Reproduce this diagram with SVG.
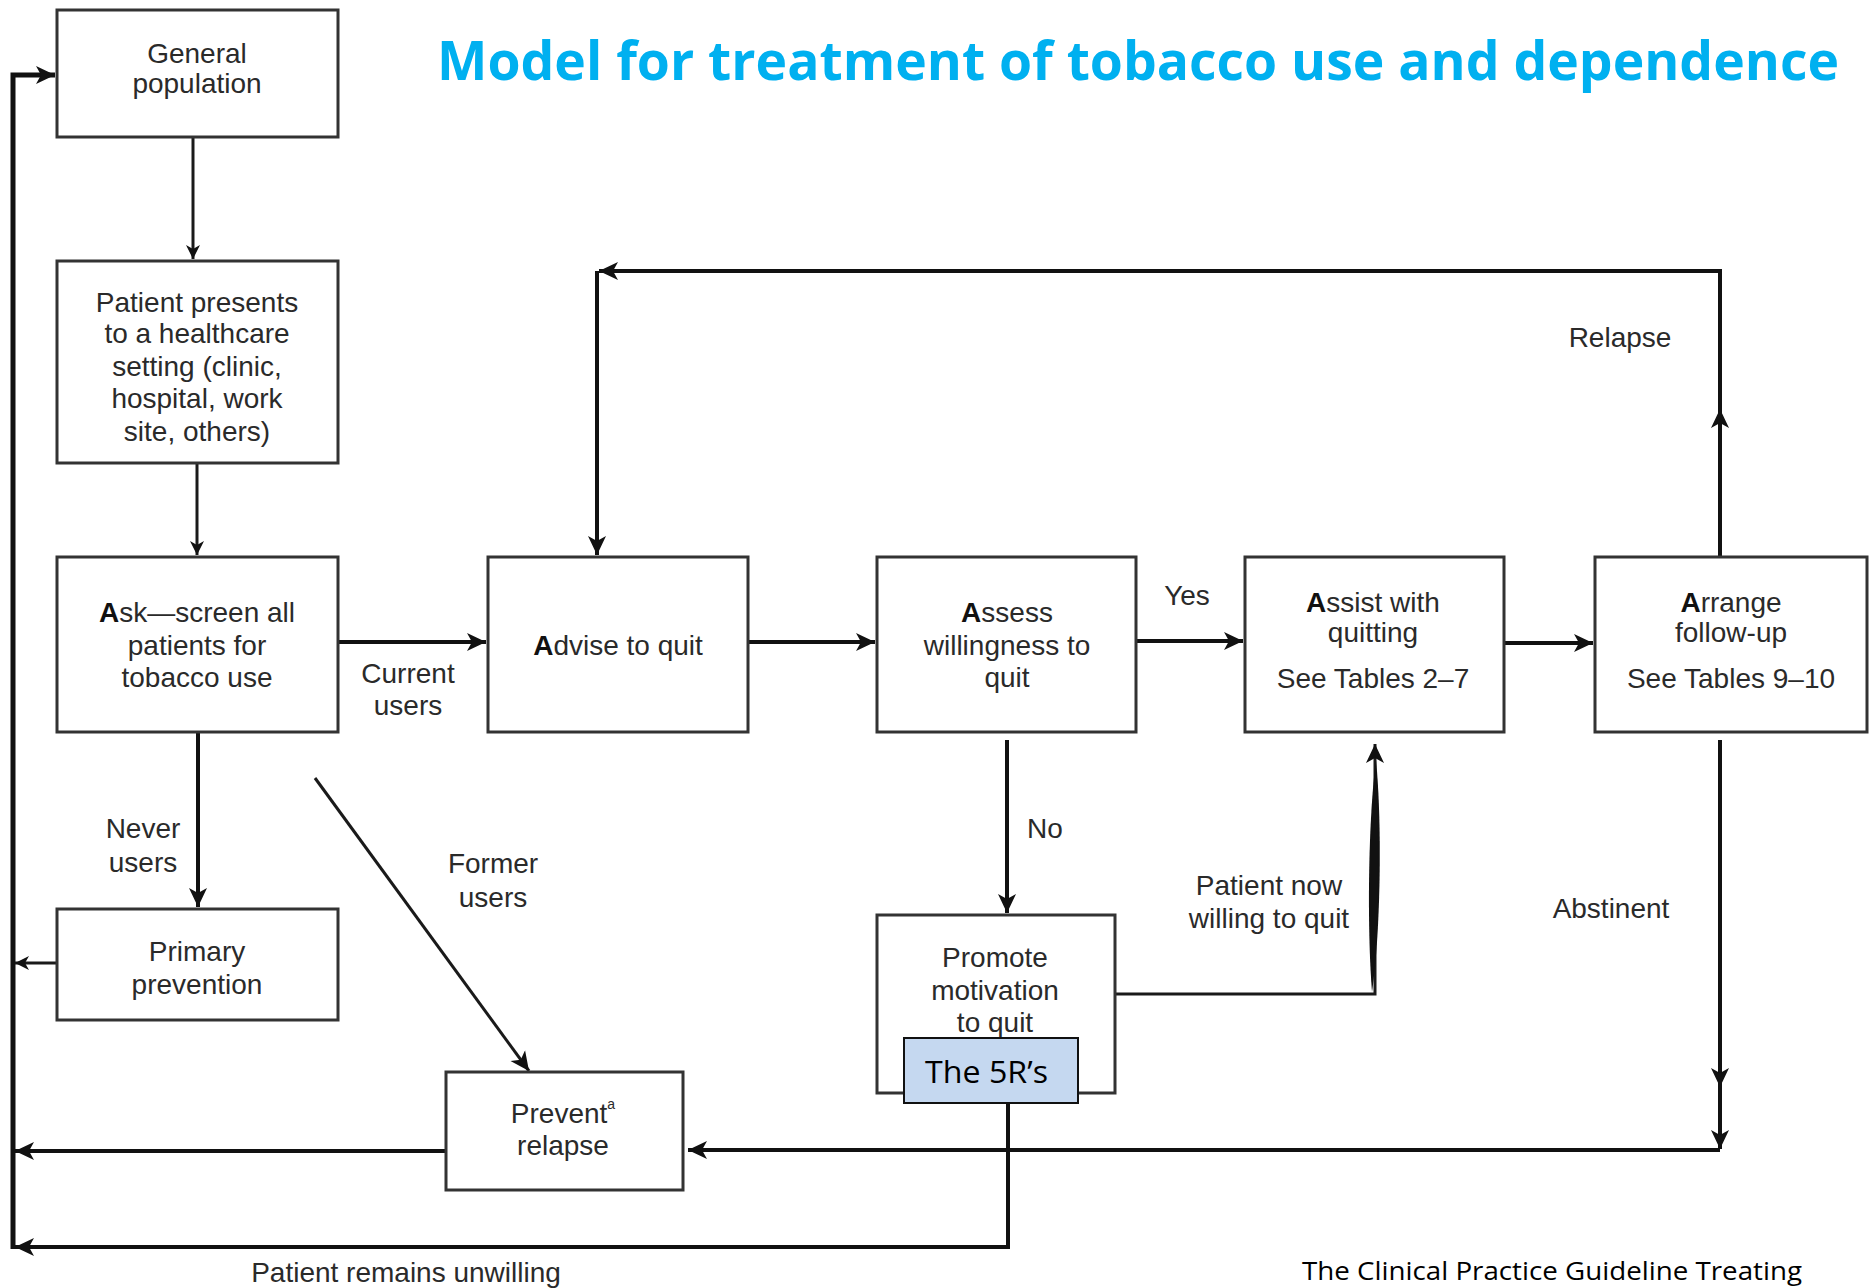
<svg xmlns="http://www.w3.org/2000/svg" width="1869" height="1288" viewBox="0 0 1869 1288">
<style>
.box{fill:#fff;stroke:#333;stroke-width:3}
.t{font-family:"Liberation Sans",Arial,sans-serif;font-size:28px;fill:#2a2a2a;text-anchor:middle}
.c{fill:none;stroke:#1a1a1a;stroke-width:3}
.k{fill:none;stroke:#111;stroke-width:4}
.K{fill:none;stroke:#111;stroke-width:5}
.b{font-weight:bold;fill:#111}
</style>
<defs>
<marker id="a" markerUnits="userSpaceOnUse" markerWidth="22" markerHeight="20" refX="19" refY="10" orient="auto">
<path d="M0,1 L19,10 L0,19 L5,10 Z" fill="#111"/>
</marker>
<marker id="s" markerUnits="userSpaceOnUse" markerWidth="16" markerHeight="16" refX="14" refY="8" orient="auto">
<path d="M0,1 L14,8 L0,15 L4,8 Z" fill="#111"/>
</marker>
</defs>
<rect width="1869" height="1288" fill="#fff"/>
<text x="437" y="80" textLength="1402" lengthAdjust="spacingAndGlyphs" style="font-family:'Open Sans','Noto Sans',sans-serif;font-weight:bold;font-size:53px;fill:#00B0F0">Model for treatment of tobacco use and dependence</text>
<g id="connectors">
<path class="K" d="M13,1249 L13,75 L55,75" marker-end="url(#a)"/>
<path class="c" d="M193,137 L193,259" marker-end="url(#s)"/>
<path class="c" d="M197,463 L197,555" marker-end="url(#s)"/>
<path class="k" d="M338,642 L486,642" marker-end="url(#a)"/>
<path class="k" d="M198,732 L198,907" marker-end="url(#a)"/>
<path class="c" d="M57,963 L15,963" marker-end="url(#s)"/>
<path class="c" d="M315,778 L529,1071" marker-end="url(#a)"/>
<path class="k" d="M748,642 L875,642" marker-end="url(#a)"/>
<path class="k" d="M1136,641 L1243,641" marker-end="url(#a)"/>
<path class="k" d="M1504,643 L1593,643" marker-end="url(#a)"/>
<path class="k" d="M1720,557 L1720,409" marker-end="url(#a)"/>
<path class="k" d="M1720,411 L1720,271 L599,271" marker-end="url(#a)"/>
<path class="k" d="M597,271 L597,555" marker-end="url(#a)"/>
<path class="k" d="M1007,740 L1007,913" marker-end="url(#a)"/>
<path class="c" d="M1115,994 L1375,994 L1375,744" marker-end="url(#a)"/>
<path d="M1372,992 C1381,930 1382,820 1376,760 C1368,820 1367,930 1372,992 Z" fill="#111"/>
<path class="k" d="M1008,1103 L1008,1247 L15,1247" marker-end="url(#a)"/>
<path class="k" d="M1720,740 L1720,1087" marker-end="url(#a)"/>
<path class="k" d="M1720,1085 L1720,1149" marker-end="url(#a)"/>
<path class="k" d="M1720,1150 L688,1150" marker-end="url(#a)"/>
<path class="k" d="M446,1151 L15,1151" marker-end="url(#a)"/>
</g>
<g id="labels">
<text class="t"><tspan x="408" y="683">Current</tspan><tspan x="408" y="715">users</tspan></text>
<text class="t"><tspan x="143" y="838">Never</tspan><tspan x="143" y="872">users</tspan></text>
<text class="t"><tspan x="493" y="873">Former</tspan><tspan x="493" y="907">users</tspan></text>
<text class="t" x="1187" y="605">Yes</text>
<text class="t" x="1045" y="838">No</text>
<text class="t"><tspan x="1269" y="895">Patient now</tspan><tspan x="1269" y="928">willing to quit</tspan></text>
<text class="t" x="1620" y="347">Relapse</text>
<text class="t" x="1611" y="918">Abstinent</text>
<text class="t" x="406" y="1282">Patient remains unwilling</text>
</g>
<g id="general-population">
<rect class="box" x="57" y="10" width="281" height="127"/>
<text class="t"><tspan x="197" y="63">General</tspan><tspan x="197" y="93">population</tspan></text>
</g>
<g id="patient-presents">
<rect class="box" x="57" y="261" width="281" height="202"/>
<text class="t"><tspan x="197" y="312">Patient presents</tspan><tspan x="197" y="343">to a healthcare</tspan><tspan x="197" y="376">setting (clinic,</tspan><tspan x="197" y="408">hospital, work</tspan><tspan x="197" y="441">site, others)</tspan></text>
</g>
<g id="ask">
<rect class="box" x="57" y="557" width="281" height="175"/>
<text class="t"><tspan x="197" y="622"><tspan class="b">A</tspan>sk—screen all</tspan><tspan x="197" y="655">patients for</tspan><tspan x="197" y="687">tobacco use</tspan></text>
</g>
<g id="primary-prevention">
<rect class="box" x="57" y="909" width="281" height="111"/>
<text class="t"><tspan x="197" y="961">Primary</tspan><tspan x="197" y="994">prevention</tspan></text>
</g>
<g id="advise">
<rect class="box" x="488" y="557" width="260" height="175"/>
<text class="t" x="618" y="655"><tspan class="b">A</tspan>dvise to quit</text>
</g>
<g id="assess">
<rect class="box" x="877" y="557" width="259" height="175"/>
<text class="t"><tspan x="1007" y="622"><tspan class="b">A</tspan>ssess</tspan><tspan x="1007" y="655">willingness to</tspan><tspan x="1007" y="687">quit</tspan></text>
</g>
<g id="assist">
<rect class="box" x="1245" y="557" width="259" height="175"/>
<text class="t"><tspan x="1373" y="612"><tspan class="b">A</tspan>ssist with</tspan><tspan x="1373" y="642">quitting</tspan><tspan x="1373" y="688">See Tables 2–7</tspan></text>
</g>
<g id="arrange">
<rect class="box" x="1595" y="557" width="272" height="175"/>
<text class="t"><tspan x="1731" y="612"><tspan class="b">A</tspan>rrange</tspan><tspan x="1731" y="642">follow-up</tspan><tspan x="1731" y="688">See Tables 9–10</tspan></text>
</g>
<g id="promote">
<rect class="box" x="877" y="915" width="238" height="178"/>
<text class="t"><tspan x="995" y="967">Promote</tspan><tspan x="995" y="1000">motivation</tspan><tspan x="995" y="1032">to quit</tspan></text>
</g>
<g id="five-rs">
<rect x="904" y="1038" width="174" height="65" fill="#C5D8F0" stroke="#111" stroke-width="2"/>
<text x="925" y="1083" textLength="123" lengthAdjust="spacingAndGlyphs" style="font-family:'Open Sans','Noto Sans',sans-serif;font-size:31px;fill:#000">The 5R’s</text>
</g>
<g id="prevent-relapse">
<rect class="box" x="446" y="1072" width="237" height="118"/>
<text class="t"><tspan x="563" y="1123">Prevent<tspan font-size="14" dy="-14">a</tspan></tspan><tspan x="563" y="1155">relapse</tspan></text>
</g>
<text x="1302" y="1280" textLength="500" lengthAdjust="spacingAndGlyphs" style="font-family:'Open Sans','Noto Sans',sans-serif;font-size:26px;fill:#000">The Clinical Practice Guideline Treating</text>
</svg>
